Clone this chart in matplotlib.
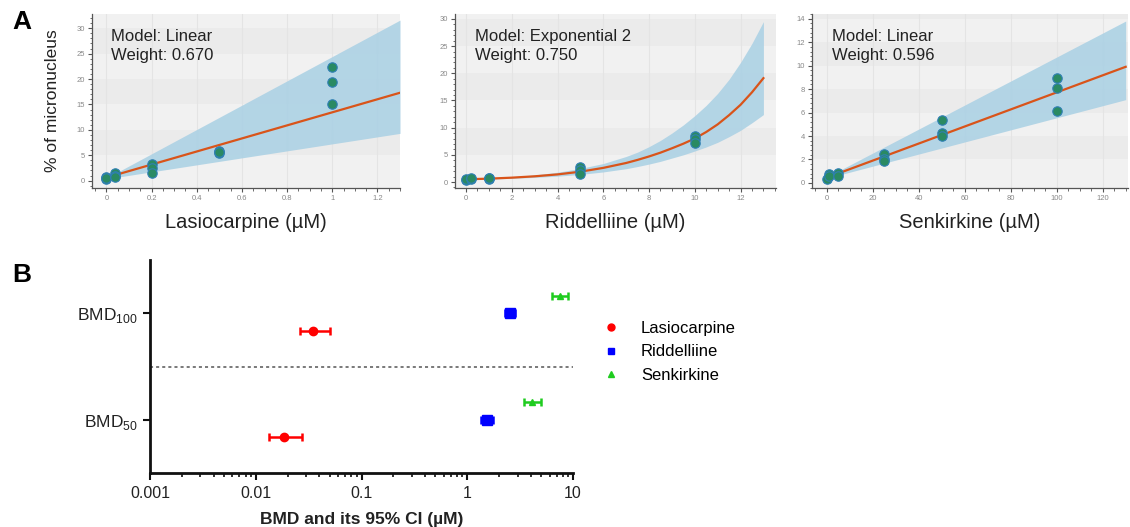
import matplotlib
matplotlib.use("Agg")
import matplotlib.pyplot as plt
from matplotlib.ticker import MultipleLocator, AutoMinorLocator, LogLocator, NullFormatter, FuncFormatter
from matplotlib.lines import Line2D

plt.rcParams['font.family'] = ['Liberation Sans', 'DejaVu Sans']

# ---------------- Panel A data ----------------
las_dose = [0, 0, 0, 0.04, 0.04, 0.04, 0.2, 0.2, 0.2, 0.5, 0.5, 0.5, 1, 1, 1]
las_resp = [0.3, 0.7, 0.5, 1.5, 1.0, 0.8, 3.3, 2.5, 1.5, 5.8, 5.5, 5.6, 22.3, 19.5, 15.1]
las_fit_x = [0, 1.3]
las_fit_y = [0.6, 17.3]
las_fit_lo = [0.35, 9.3]
las_fit_hi = [0.5, 31.6]

rid_dose = [0, 0, 0.2, 0.2, 1, 1, 1, 5, 5, 5, 10, 10, 10]
rid_resp = [0.4, 0.5, 0.6, 0.7, 0.5, 0.8, 0.7, 2.8, 2.2, 1.55, 8.5, 7.9, 7.2]
rid_fit_x = [0, 1, 2, 3, 4, 5, 6, 7, 7.5, 8, 8.5, 9, 9.5, 10, 10.5, 11, 11.5, 12, 12.5, 13]
rid_fit_y = [0.5, 0.62, 0.8, 1.05, 1.4, 1.9, 2.6, 3.5, 4.07, 4.7, 5.4, 6.2, 7.05, 8.0, 9.2, 10.6, 12.3, 14.2, 16.5, 19.1]
rid_fit_hi = [0.55, 0.72, 0.95, 1.3, 1.8, 2.5, 3.4, 4.7, 5.5, 6.5, 7.65, 9.0, 10.5, 12.2, 14.1, 16.3, 18.9, 22.0, 25.5, 29.5]
rid_fit_lo = [0.45, 0.55, 0.68, 0.85, 1.08, 1.4, 1.85, 2.45, 2.85, 3.3, 3.8, 4.4, 5.0, 5.7, 6.45, 7.3, 8.35, 9.5, 10.9, 12.4]

sen_dose = [0, 1, 1, 5, 5, 25, 25, 25, 50, 50, 50, 100, 100, 100]
sen_resp = [0.37, 0.8, 0.57, 0.86, 0.57, 2.51, 2.0, 1.86, 5.37, 4.29, 4.0, 8.97, 8.09, 6.11]
sen_fit_x = [0, 130]
sen_fit_y = [0.45, 9.9]
sen_fit_lo = [0.4, 7.1]
sen_fit_hi = [0.5, 13.8]

compounds = ["Lasiocarpine", "Riddelliine", "Senkirkine"]
models = ["Model: Linear\nWeight: 0.670", "Model: Exponential 2\nWeight: 0.750", "Model: Linear\nWeight: 0.596"]

# ---------------- Panel B data ----------------
bmd_levels = ["BMD$_{\\mathregular{50}}$", "BMD$_{\\mathregular{100}}$"]
las_bmd = [0.0183, 0.0351]
las_lo = [0.0134, 0.0261]
las_hi = [0.0276, 0.0505]
rid_bmd = [1.54, 2.53]
rid_lo = [1.36, 2.27]
rid_hi = [1.76, 2.84]
sen_bmd = [4.09, 7.48]
sen_lo = [3.41, 6.34]
sen_hi = [4.95, 9.06]

W, H = 1130, 527
fig = plt.figure(figsize=(W / 100, H / 100), dpi=100)

def fr(l, t, r, b):
    return [l / W, 1 - b / H, (r - l) / W, (b - t) / H]

panelA = [
    dict(rect=fr(92, 14, 400, 188), dose=las_dose, resp=las_resp, fx=las_fit_x, fy=las_fit_y,
         flo=las_fit_lo, fhi=las_fit_hi, xlim=(-0.064, 1.3), ylim=(-1.45, 32.8), xmaj=0.2, ymaj=5),
    dict(rect=fr(455, 14, 776, 188), dose=rid_dose, resp=rid_resp, fx=rid_fit_x, fy=rid_fit_y,
         flo=rid_fit_lo, fhi=rid_fit_hi, xlim=(-0.48, 13.55), ylim=(-1.1, 30.9), xmaj=2, ymaj=5),
    dict(rect=fr(812, 14, 1128, 188), dose=sen_dose, resp=sen_resp, fx=sen_fit_x, fy=sen_fit_y,
         flo=sen_fit_lo, fhi=sen_fit_hi, xlim=(-6.4, 131), ylim=(-0.43, 14.4), xmaj=20, ymaj=2),
]

gfmt = FuncFormatter(lambda v, pos: "%g" % round(v, 6))

for i, p in enumerate(panelA):
    ax = fig.add_axes(p["rect"])
    ax.set_facecolor("#f1f1f1")
    ax.set_xlim(*p["xlim"])
    ax.set_ylim(*p["ylim"])
    ym = p["ymaj"]
    k = 0
    while k * ym < p["ylim"][1]:
        if k % 2 == 1:
            ax.axhspan(k * ym, (k + 1) * ym, color="#ebebeb", lw=0, zorder=0)
        k += 1
    ax.xaxis.set_major_locator(MultipleLocator(p["xmaj"]))
    ax.yaxis.set_major_locator(MultipleLocator(ym))
    ax.xaxis.set_major_formatter(gfmt)
    ax.yaxis.set_major_formatter(gfmt)
    ax.xaxis.set_minor_locator(AutoMinorLocator(4))
    ax.yaxis.set_minor_locator(AutoMinorLocator(5))
    ax.grid(True, axis="x", which="major", color="#e4e4e4", lw=0.8, zorder=0.5)
    ax.set_axisbelow(True)
    for s in ["top", "right"]:
        ax.spines[s].set_visible(False)
    for s in ["left", "bottom"]:
        ax.spines[s].set_color("#555555")
        ax.spines[s].set_linewidth(0.9)
    ax.tick_params(which="major", length=3, width=0.8, color="#555555", labelsize=5.5,
                   labelcolor="#888888", pad=2)
    ax.tick_params(which="minor", length=1.8, width=0.6, color="#555555")
    ax.fill_between(p["fx"], p["flo"], p["fhi"], color="#a9d0e4", alpha=0.85, lw=0, zorder=2)
    ax.plot(p["fx"], p["fy"], color="#d9541a", lw=1.6, zorder=3)
    ax.scatter(p["dose"], p["resp"], s=46, color="#2a8a63", edgecolors="#2f7fb5",
               linewidths=0.8, zorder=4)
    ax.text(0.062, 0.915, models[i], transform=ax.transAxes, ha="left", va="top",
            fontsize=12, color="#222222", linespacing=1.38)
    ax.set_xlabel(compounds[i] + " (µM)", fontsize=14.5, color="#222222", labelpad=8)
    if i == 0:
        ax.set_ylabel("% of micronucleus", fontsize=12.5, color="#222222", labelpad=12)

fig.text(22 / W, 1 - 22 / H, "A", fontsize=19, fontweight="bold", ha="center", va="center")
fig.text(22 / W, 1 - 275 / H, "B", fontsize=19, fontweight="bold", ha="center", va="center")

# ---------------- Panel B ----------------
axb = fig.add_axes(fr(150, 260, 573, 473))
axb.set_xscale("log")
axb.set_xlim(0.001, 10)
axb.set_ylim(-0.5, 1.5)
levels_y = list(range(len(bmd_levels)))
series = [
    ("Lasiocarpine", las_bmd, las_lo, las_hi, "#ff0000", "o", 6, -0.166),
    ("Riddelliine", rid_bmd, rid_lo, rid_hi, "#0000ff", "s", 6.5, 0.0),
    ("Senkirkine", sen_bmd, sen_lo, sen_hi, "#1fcc1f", "^", 5, 0.166),
]
handles = []
for name, v, lo, hi, col, mk, ms, off in series:
    ys = [y + off for y in levels_y]
    xerr = [[a - b for a, b in zip(v, lo)], [b - a for a, b in zip(v, hi)]]
    axb.errorbar(v, ys, xerr=xerr, fmt=mk, color=col, ms=ms, elinewidth=1.8,
                 capsize=3, capthick=1.8, zorder=3)
    handles.append(Line2D([], [], ls="none", marker=mk, color=col, ms=5))
axb.axhline(0.5, color="#555555", ls=(0, (2, 2)), lw=1.1)
axb.set_yticks(levels_y)
axb.set_yticklabels(bmd_levels, fontsize=12.5, color="#222222")
axb.set_xticks([0.001, 0.01, 0.1, 1, 10])
axb.set_xticklabels(["0.001", "0.01", "0.1", "1", "10"], fontsize=11.5, color="#222222")
axb.xaxis.set_minor_locator(LogLocator(base=10, subs=range(2, 10), numticks=20))
axb.xaxis.set_minor_formatter(NullFormatter())
for s in ["top", "right"]:
    axb.spines[s].set_visible(False)
for s in ["left", "bottom"]:
    axb.spines[s].set_linewidth(2)
    axb.spines[s].set_color("#111111")
axb.tick_params(which="major", length=5, width=1.5, color="#111111", pad=4)
axb.tick_params(which="minor", length=3, width=1.2, color="#111111")
axb.set_xlabel("BMD and its 95% CI (µM)", fontsize=12.5, fontweight="bold", color="#222222", labelpad=8)
axb.legend(handles, compounds, loc="upper left", bbox_to_anchor=(586 / W, 1 - 306 / H),
           bbox_transform=fig.transFigure, frameon=False, fontsize=12, handletextpad=1.2,
           labelspacing=0.5, handlelength=1.2)

fig.savefig("out.png", dpi=100)
